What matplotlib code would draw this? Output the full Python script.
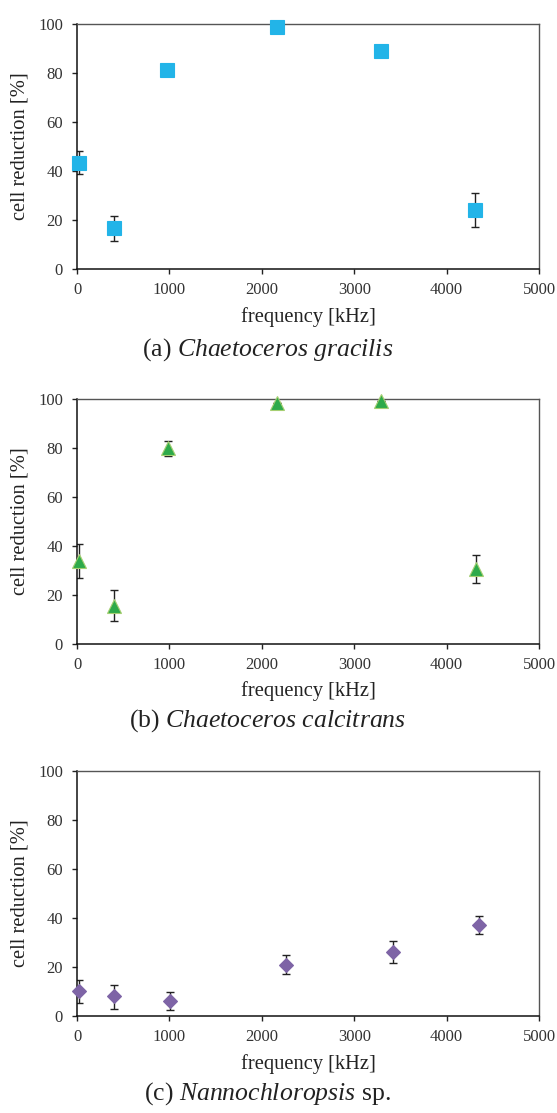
import matplotlib
matplotlib.use("Agg")
import matplotlib.pyplot as plt
import numpy as np

plt.rcParams['font.family'] = ['Liberation Serif', 'DejaVu Serif']
plt.rcParams['mathtext.fontset'] = 'custom'
plt.rcParams['mathtext.rm'] = 'Liberation Serif'
plt.rcParams['mathtext.it'] = 'Liberation Serif:italic'

# (a) Chaetoceros gracilis
freq_a = [23, 403, 976, 2167, 3290, 4312]
red_a = [43.4, 16.6, 81.3, 98.8, 89.1, 24.1]
err_lo_a = [4.7, 5.0, 0, 0, 0, 6.9]
err_hi_a = [4.6, 5.2, 0, 0, 0, 6.9]

# (b) Chaetoceros calcitrans
freq_b = [27, 403, 980, 2160, 3285, 4323]
red_b = [33.7, 15.4, 79.8, 98.2, 99.2, 30.3]
err_lo_b = [7.1, 6.1, 3.0, 0, 0, 5.4]
err_hi_b = [7.0, 6.5, 3.1, 0, 0, 5.8]

# (c) Nannochloropsis sp.
freq_c = [19, 403, 1011, 2267, 3424, 4355]
red_c = [10.1, 8.0, 6.1, 21.0, 26.2, 37.3]
err_lo_c = [4.7, 5.3, 3.5, 3.8, 4.7, 3.9]
err_hi_c = [4.5, 4.8, 3.6, 3.8, 4.5, 3.7]

captions = [r"(a) $\mathit{Chaetoceros\ gracilis}$",
            r"(b) $\mathit{Chaetoceros\ calcitrans}$",
            r"(c) $\mathit{Nannochloropsis}$ sp."]

panels = [
    (freq_a, red_a, err_lo_a, err_hi_a, 's', '#22b4e8', '#22b4e8', 10),
    (freq_b, red_b, err_lo_b, err_hi_b, '^', '#2eaa4a', '#a6cf72', 9.8),
    (freq_c, red_c, err_lo_c, err_hi_c, 'D', '#7e64a6', '#7e64a6', 7.3),
]

W, H = 557, 1113
fig = plt.figure(figsize=(W / 100, H / 100), dpi=100)
# axes boxes in pixels: (top, bottom)
boxes = [(24, 269), (399, 643.5), (771, 1016)]
caption_px = [350, 721, 1094]
left_px, right_px = 77, 539

for i, (x, y, lo, hi, mk, fc, ec, ms) in enumerate(panels):
    top, bot = boxes[i]
    ax = fig.add_axes([left_px / W, 1 - bot / H, (right_px - left_px) / W, (bot - top) / H])
    ax.errorbar(x, y, yerr=[lo, hi], fmt='none', ecolor='#222222',
                elinewidth=1.0, capsize=3, capthick=1.0, zorder=2)
    ax.plot(x, y, linestyle='none', marker=mk, markersize=ms,
            markerfacecolor=fc, markeredgecolor=ec, markeredgewidth=0.8,
            zorder=3, clip_on=False)
    ax.set_xlim(0, 5000)
    ax.set_ylim(0, 100)
    ax.set_xticks(np.arange(0, 5001, 1000))
    ax.set_yticks(np.arange(0, 101, 20))
    ax.tick_params(direction='out', length=3.6, width=1, colors='#222222',
                   labelsize=12, labelcolor='#333333')
    ax.tick_params(axis='x', pad=6)
    ax.tick_params(axis='y', pad=6.5)
    for side in ['left', 'bottom']:
        ax.spines[side].set_color('#111111')
        ax.spines[side].set_linewidth(1.1)
    for side in ['top', 'right']:
        ax.spines[side].set_color('#555555')
        ax.spines[side].set_linewidth(1.0)
    ax.set_xlabel('frequency [kHz]', fontsize=14.8, color='#222222', labelpad=6)
    ax.set_ylabel('cell reduction [%]', fontsize=14.8, color='#222222', labelpad=6)
    fig.text(268 / W, 1 - caption_px[i] / H, captions[i], ha='center', va='center',
             fontsize=18.5, color='#222222')

fig.savefig('out.png', dpi=100)
